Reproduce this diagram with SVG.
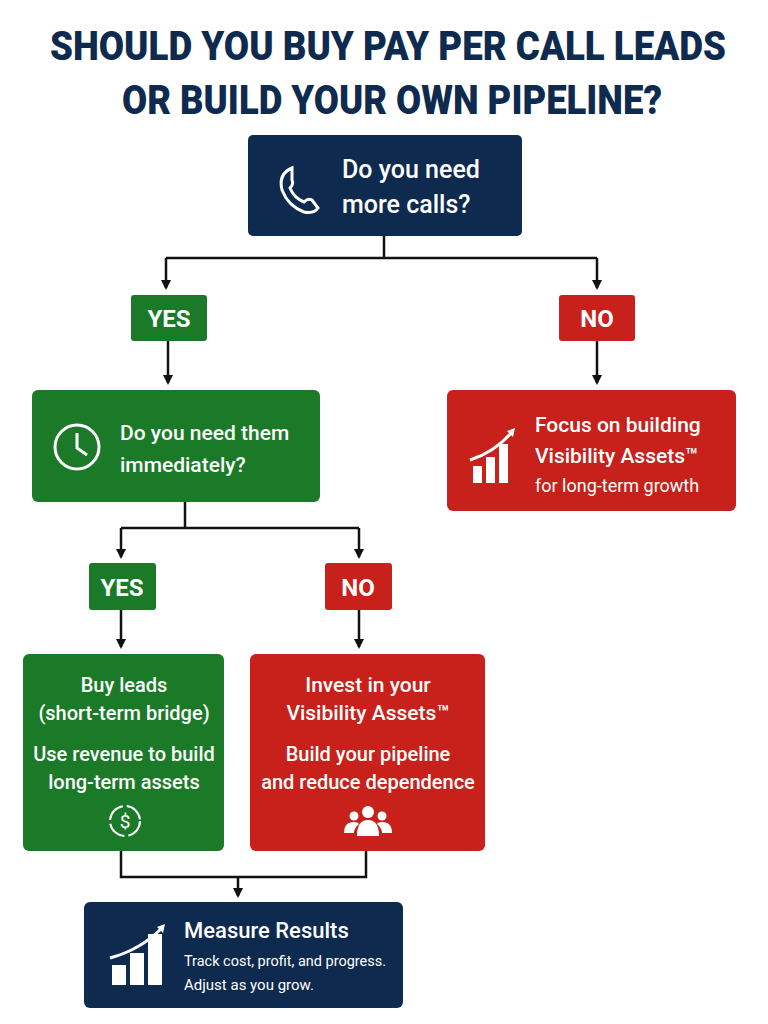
<svg xmlns="http://www.w3.org/2000/svg" width="768" height="1024" viewBox="0 0 768 1024">
<style>
text{font-family:Roboto,"Liberation Sans",sans-serif;fill:#fff}
.t{font-weight:900;fill:#0f2a4f;font-size:40px}
.navy{fill:#0f2a4f}.green{fill:#1a7a28}.red{fill:#c8201a}
.c{fill:none;stroke:#111;stroke-width:2.5}
.h{font-size:25px;font-weight:500}
.m{font-size:21px;font-weight:500}
.s{font-size:18px}
.lbl{font-size:24px;font-weight:700;text-anchor:middle}
.ic{fill:none;stroke:#fff;stroke-width:3}
</style>
<defs><marker id="a" markerWidth="10" markerHeight="10" refX="8" refY="5" orient="auto" markerUnits="userSpaceOnUse"><path d="M0,0 L10,5 L0,10Z" fill="#111"/></marker></defs>
<rect width="768" height="1024" fill="#fff"/>
<text class="t" x="388" y="60" text-anchor="middle" textLength="676" lengthAdjust="spacingAndGlyphs">SHOULD YOU BUY PAY PER CALL LEADS</text>
<text class="t" x="392" y="114" text-anchor="middle" textLength="540" lengthAdjust="spacingAndGlyphs">OR BUILD YOUR OWN PIPELINE?</text>
<g id="connectors">
<path class="c" d="M384,236 V258 M166,258 H597"/>
<path class="c" d="M166,258 V288" marker-end="url(#a)"/>
<path class="c" d="M597,258 V288" marker-end="url(#a)"/>
<path class="c" d="M168,341 V383" marker-end="url(#a)"/>
<path class="c" d="M597,341 V383" marker-end="url(#a)"/>
<path class="c" d="M185,502 V528 M121,528 H359"/>
<path class="c" d="M121,528 V557" marker-end="url(#a)"/>
<path class="c" d="M359,528 V557" marker-end="url(#a)"/>
<path class="c" d="M121,610 V647" marker-end="url(#a)"/>
<path class="c" d="M359,610 V647" marker-end="url(#a)"/>
<path class="c" d="M121,851 V877 H366 V851"/>
<path class="c" d="M238,877 V896" marker-end="url(#a)"/>
</g>
<g id="q1"><rect class="navy" x="248" y="135" width="274" height="101" rx="5"/>
<path d="M292,168 q-14,6 -10,22 q6,16 22,22 q10,2 14,-4 l-6,-8 q-4,-2 -8,2 q-10,-4 -14,-14 q4,-4 2,-8z" fill="none" stroke="#fff" stroke-width="3"/>
<text class="h" x="342" y="178">Do you need</text><text class="h" x="342" y="213">more calls?</text></g>
<g id="yes1"><rect class="green" x="131" y="295" width="76" height="46" rx="3"/><text class="lbl" x="169" y="327">YES</text></g>
<g id="no1"><rect class="red" x="559" y="295" width="76" height="46" rx="3"/><text class="lbl" x="597" y="327">NO</text></g>
<g id="q2"><rect class="green" x="32" y="390" width="288" height="112" rx="6"/>
<circle class="ic" cx="77" cy="447" r="22"/><path class="ic" d="M77,433 V448 L87,455"/>
<text class="m" x="120" y="440">Do you need them</text><text class="m" x="120" y="472">immediately?</text></g>
<g id="focus"><rect class="red" x="447" y="390" width="289" height="121" rx="6"/>
<g fill="#fff"><rect x="473" y="466" width="9" height="17"/><rect x="486" y="457" width="9" height="26"/><rect x="499" y="444" width="9" height="39"/></g>
<path class="ic" d="M470,460 Q495,452 512,432" stroke-width="2.5"/><path d="M507,431 L515,428 L513,437Z" fill="#fff"/>
<text class="m" x="535" y="432">Focus on building</text><text class="m" x="535" y="463">Visibility Assets™</text><text class="s" x="535" y="492">for long-term growth</text></g>
<g id="yes2"><rect class="green" x="89" y="563" width="67" height="47" rx="3"/><text class="lbl" x="122" y="596">YES</text></g>
<g id="no2"><rect class="red" x="325" y="563" width="67" height="47" rx="3"/><text class="lbl" x="358" y="596">NO</text></g>
<g id="buy"><rect class="green" x="23" y="654" width="201" height="197" rx="6"/>
<g text-anchor="middle" font-weight="500"><text x="124" y="692" font-size="20">Buy leads</text><text x="124" y="720" font-size="20">(short-term bridge)</text><text x="124" y="761" font-size="20">Use revenue to build</text><text x="124" y="789" font-size="20">long-term assets</text></g>
<circle cx="125" cy="821" r="15" fill="none" stroke="#fff" stroke-width="2" stroke-dasharray="20 4"/><text x="125" y="828" text-anchor="middle" font-size="19">$</text></g>
<g id="invest"><rect class="red" x="250" y="654" width="235" height="197" rx="6"/>
<g text-anchor="middle" font-weight="500"><text x="368" y="692" font-size="21">Invest in your</text><text x="368" y="720" font-size="21">Visibility Assets™</text><text x="368" y="761" font-size="20">Build your pipeline</text><text x="368" y="789" font-size="20">and reduce dependence</text></g>
<g fill="#fff"><circle cx="368" cy="812" r="6"/><circle cx="354" cy="816" r="4.5"/><circle cx="382" cy="816" r="4.5"/>
<path d="M357,836 q0,-16 11,-16 q11,0 11,16z"/><path d="M344,833 q0,-11 10,-11 q4,0 5,2 q-5,4 -5,9z"/><path d="M392,833 q0,-11 -10,-11 q-4,0 -5,2 q5,4 5,9z"/></g></g>
<g id="measure"><rect class="navy" x="84" y="902" width="319" height="106" rx="6"/>
<g fill="#fff"><rect x="112" y="965" width="14" height="20"/><rect x="130" y="953" width="14" height="32"/><rect x="148" y="934" width="14" height="51"/></g>
<path class="ic" d="M110,958 Q140,950 162,928" stroke-width="2.5"/><path d="M157,927 L165,924 L163,933Z" fill="#fff"/>
<text x="184" y="938" font-size="22" font-weight="500">Measure Results</text><text x="184" y="966" font-size="15" textLength="202" lengthAdjust="spacingAndGlyphs">Track cost, profit, and progress.</text><text x="184" y="990" font-size="15">Adjust as you grow.</text></g>
</svg>
